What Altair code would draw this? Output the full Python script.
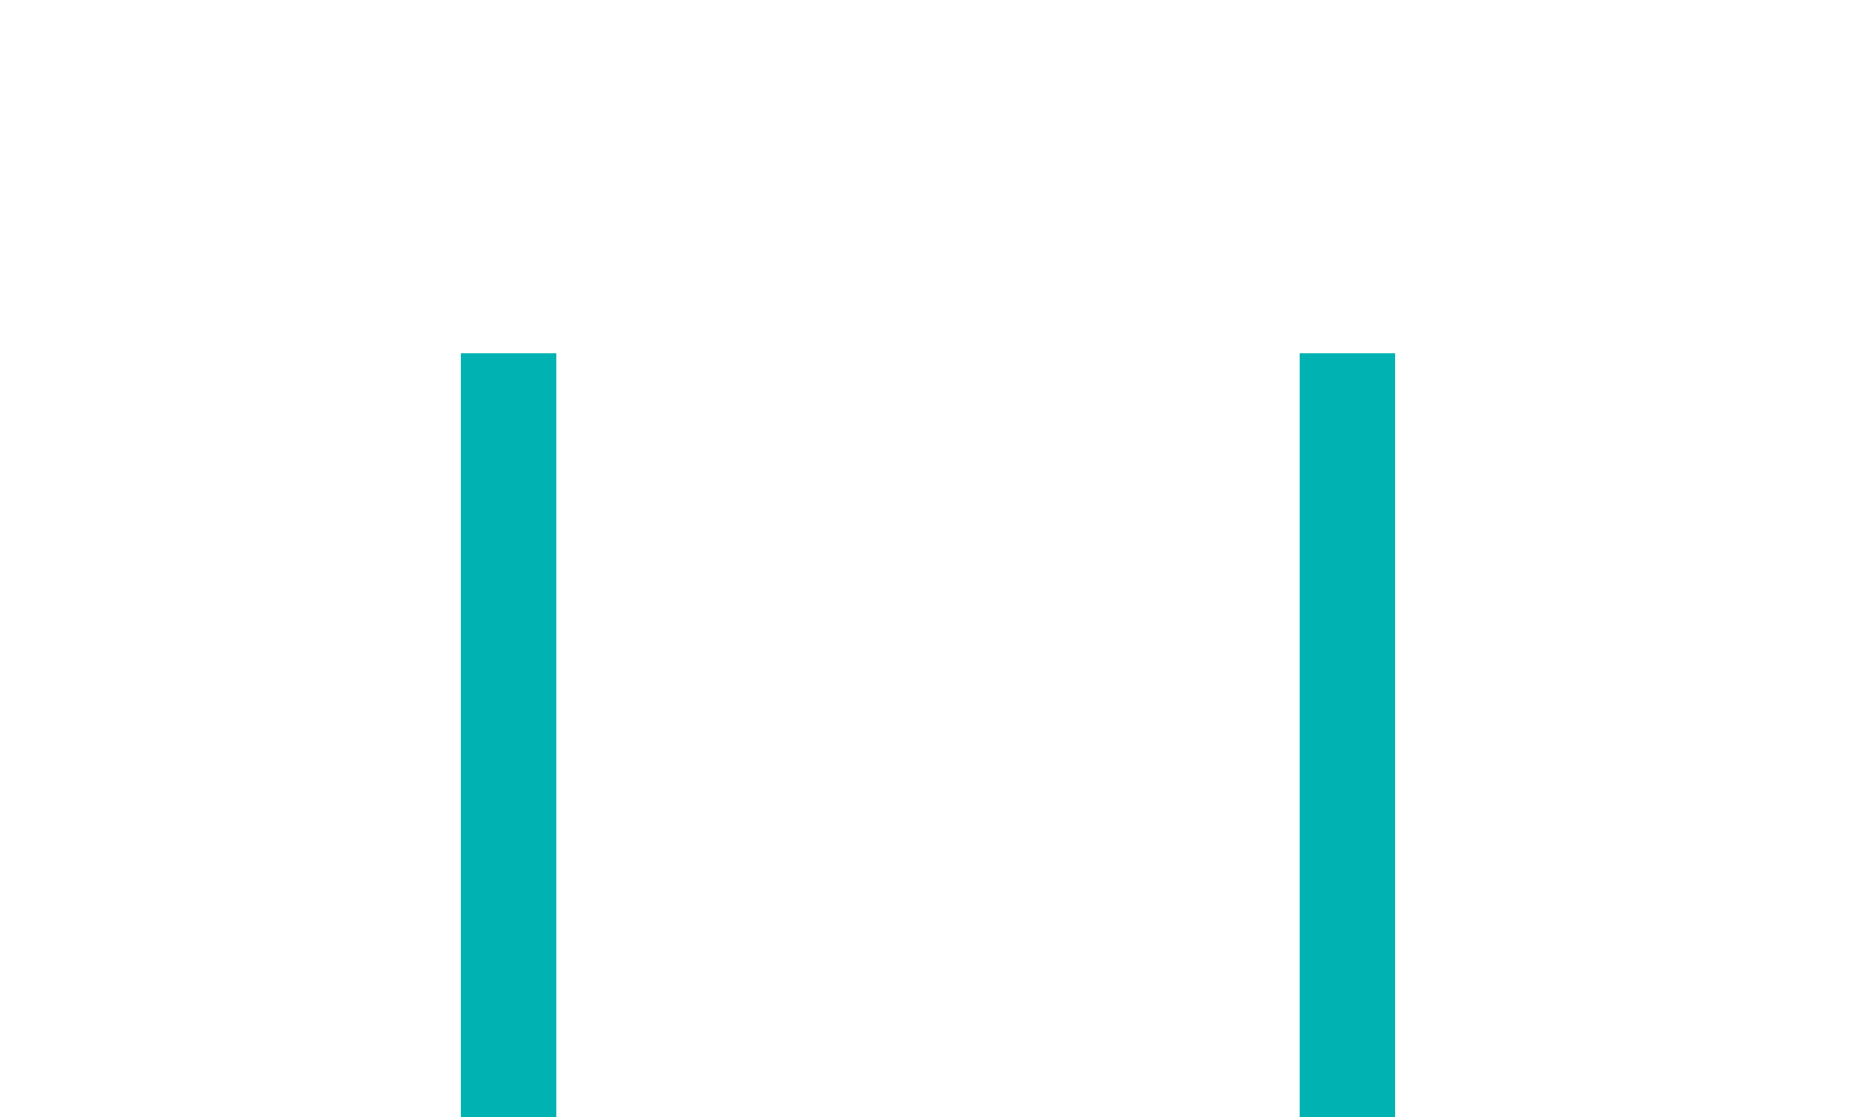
import altair as alt
import pandas as pd

categories = ["A", "B"]
values = [100, 100]

df = pd.DataFrame({"category": categories, "value": values})

chart = (
    alt.Chart(df)
    .mark_bar(color="#00b2b2")
    .encode(
        x=alt.X(
            "category:N",
            axis=None,
            scale=alt.Scale(paddingInner=0.8862, paddingOuter=0.5399),
        ),
        y=alt.Y("value:Q", axis=None, scale=alt.Scale(domain=[0, 145.2], nice=False)),
    )
    .properties(
        width=1840,
        height=1109,
        padding=0,
        autosize=alt.AutoSizeParams(type="none"),
    )
    .configure_view(stroke=None)
)

chart.save("out.html", embed_options={"renderer": "svg", "actions": False})
